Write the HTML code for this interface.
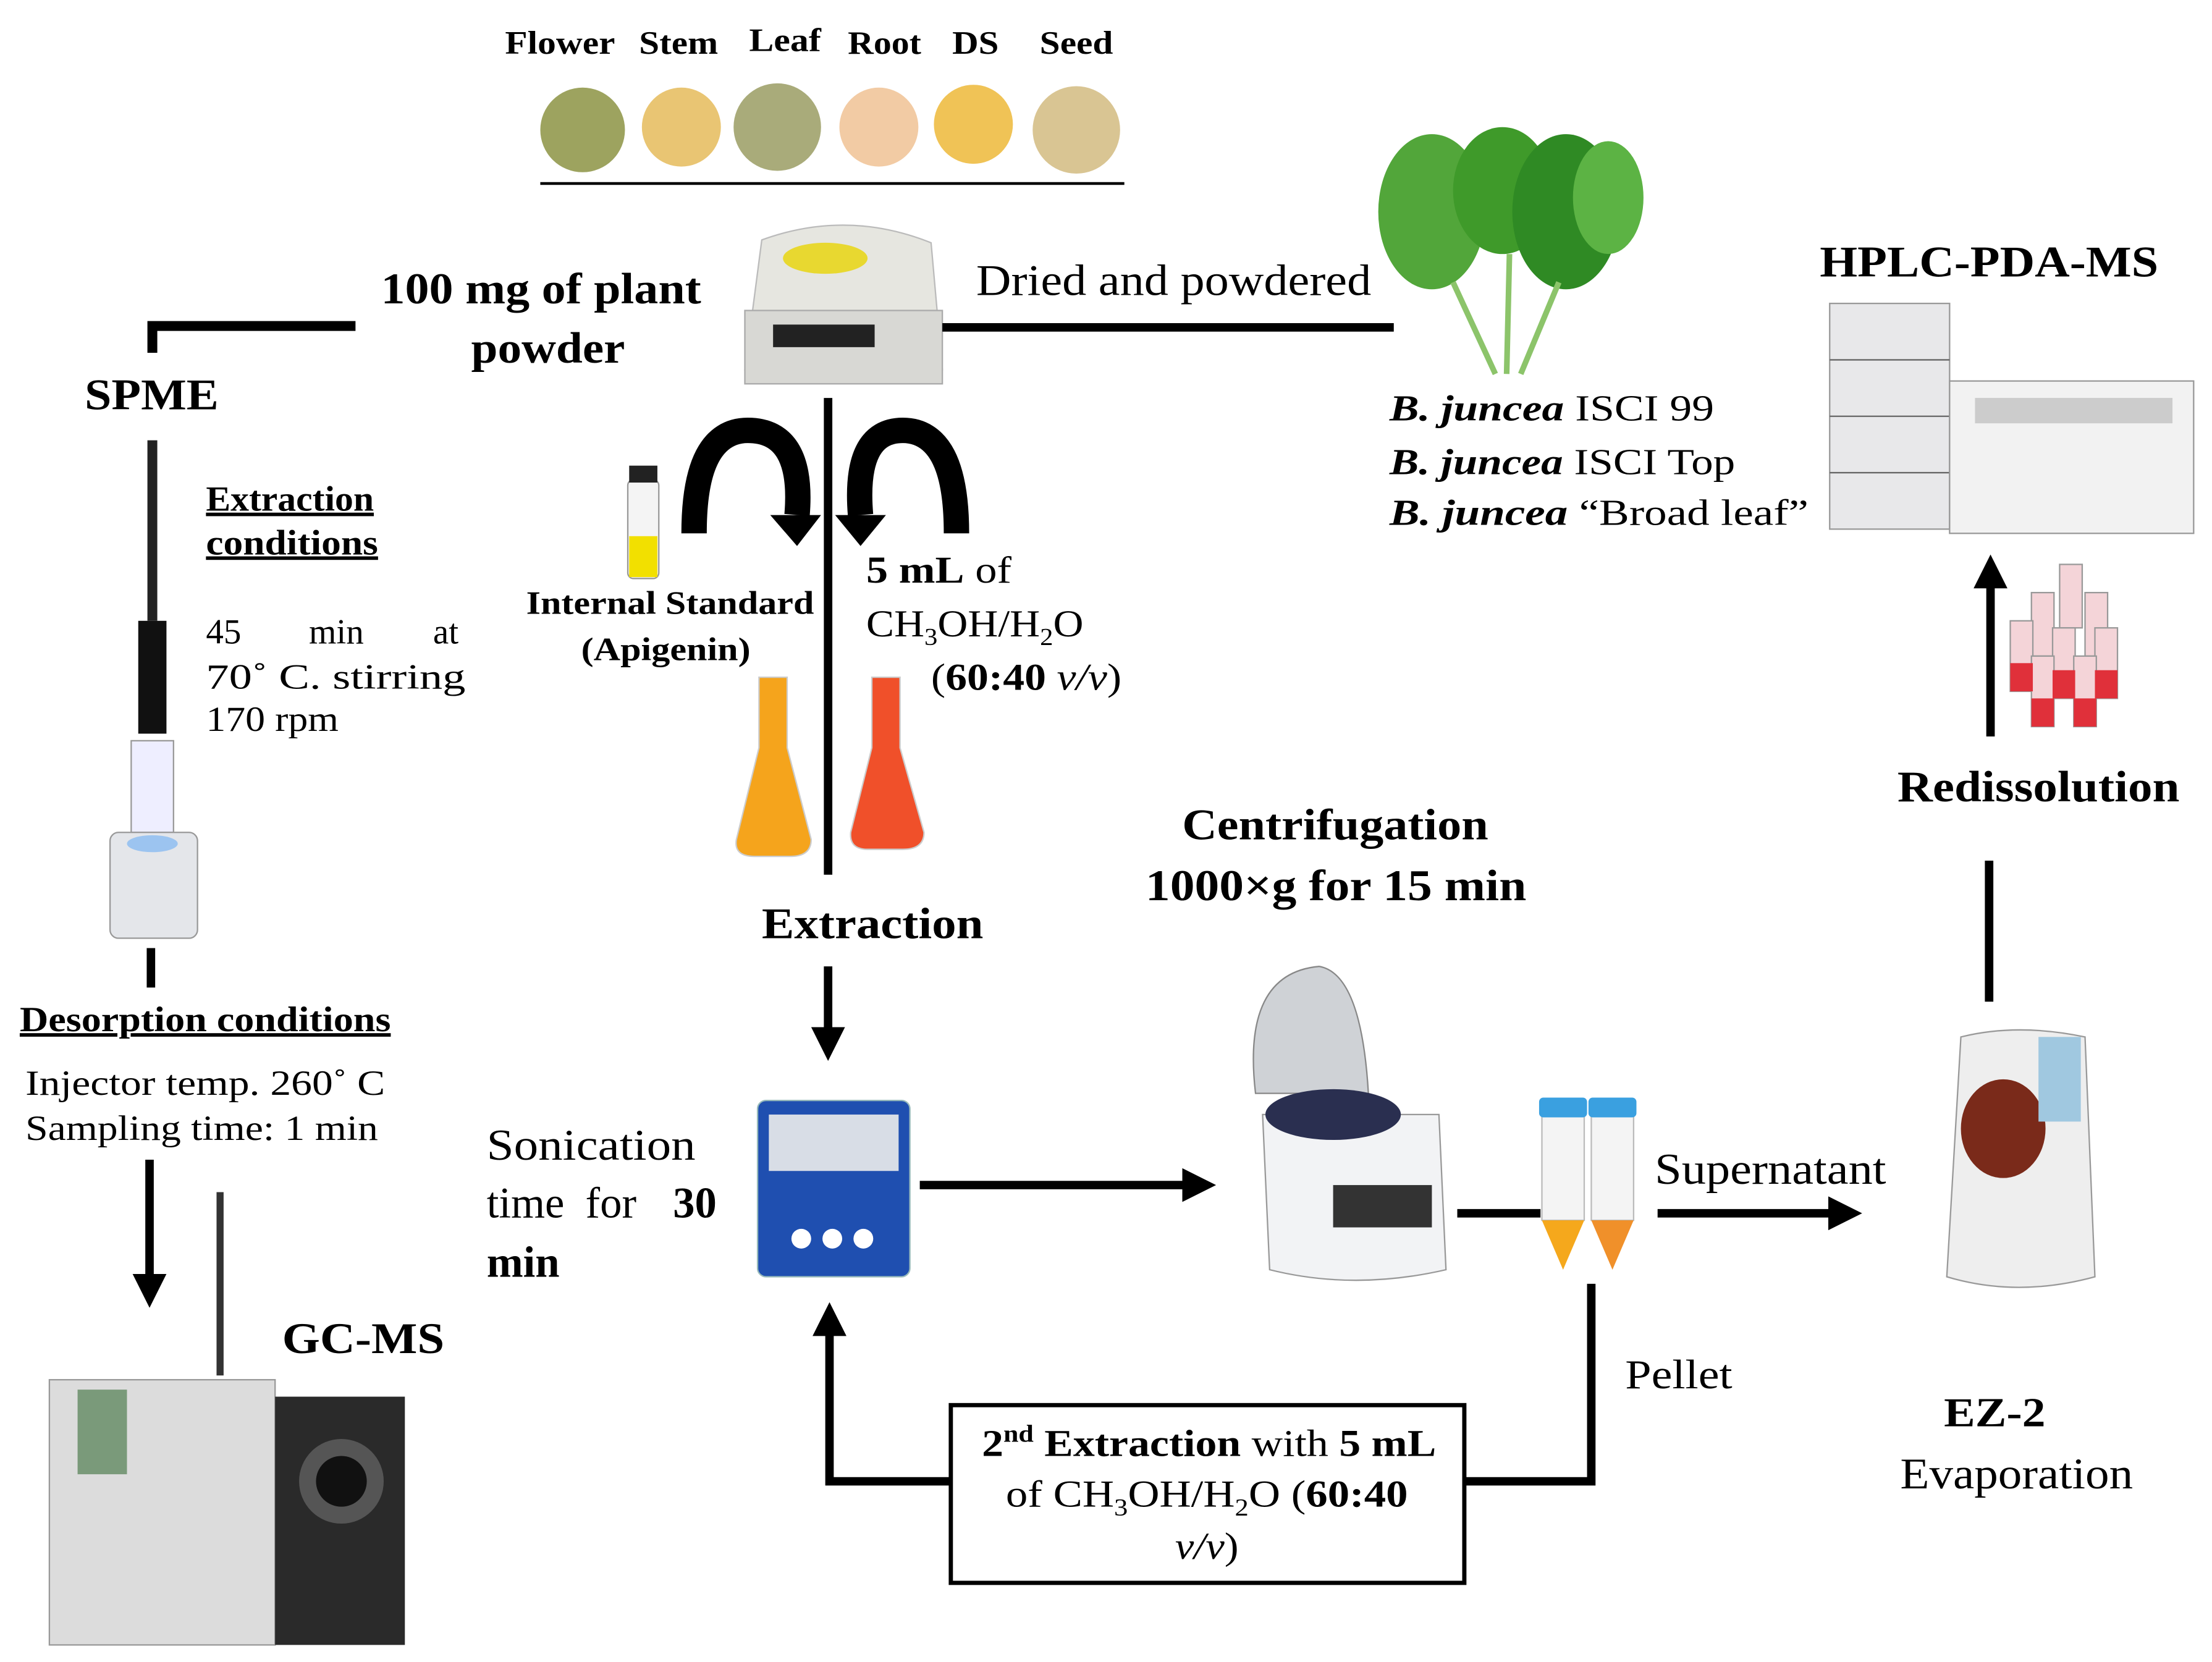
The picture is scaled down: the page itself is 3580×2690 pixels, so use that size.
<!DOCTYPE html>
<html><head><meta charset="utf-8"><style>
html,body{margin:0;padding:0;background:#fff;}
svg{display:block;}
text{font-family:"Liberation Serif",serif;fill:#000;}
.b{font-weight:bold;}
</style></head><body>
<svg width="3580" height="2690" viewBox="0 0 1568 1178" xmlns="http://www.w3.org/2000/svg">
<defs>
<marker id="ah" markerWidth="4" markerHeight="4" refX="2" refY="2" orient="auto" markerUnits="strokeWidth"><path d="M0,0 L4,2 L0,4 z" fill="#000"/></marker>
</defs>
<rect width="1568" height="1178" fill="#fff"/>
<g font-size="23" class="b" lengthAdjust="spacingAndGlyphs">
<text x="358" y="38" class="b" textLength="78" lengthAdjust="spacingAndGlyphs">Flower</text><text x="453" y="38" class="b" textLength="56" lengthAdjust="spacingAndGlyphs">Stem</text><text x="531" y="36" class="b" textLength="51" lengthAdjust="spacingAndGlyphs">Leaf</text><text x="601" y="38" class="b" textLength="52" lengthAdjust="spacingAndGlyphs">Root</text><text x="675" y="38" class="b" textLength="33" lengthAdjust="spacingAndGlyphs">DS</text><text x="737" y="38" class="b" textLength="52" lengthAdjust="spacingAndGlyphs">Seed</text>
</g>
<circle cx="413" cy="92" r="30" fill="#9da35f"/><circle cx="483" cy="90" r="28" fill="#e9c573"/><circle cx="551" cy="90" r="31" fill="#a9ab7a"/><circle cx="623" cy="90" r="28" fill="#f2cba4"/><circle cx="690" cy="88" r="28" fill="#f0c356"/><circle cx="763" cy="92" r="31" fill="#d9c593"/>
<line x1="383" y1="130" x2="797" y2="130" stroke="#000" stroke-width="2"/>
<path d="M540,170 Q600,148 660,172 L668,262 L528,262 Z" fill="#e6e6e0" stroke="#bbb"/>
<ellipse cx="585" cy="183" rx="30" ry="11" fill="#e8d830"/>
<rect x="528" y="220" width="140" height="52" fill="#d8d8d4" stroke="#aaa"/>
<rect x="548" y="230" width="72" height="16" fill="#222"/>
<text x="270" y="215" class="b" font-size="31" textLength="227" lengthAdjust="spacingAndGlyphs">100 mg of plant</text>
<text x="334" y="257" class="b" font-size="31" textLength="109" lengthAdjust="spacingAndGlyphs">powder</text>
<path d="M252,231 H108 V250" fill="none" stroke="#000" stroke-width="7"/>
<text x="60" y="290" class="b" font-size="31" textLength="95" lengthAdjust="spacingAndGlyphs">SPME</text>
<line x1="668" y1="232" x2="988" y2="232" stroke="#000" stroke-width="6"/>
<text x="692" y="209" font-size="31" textLength="280" lengthAdjust="spacingAndGlyphs">Dried and powdered</text>
<g fill="#3f9a2a">
<ellipse cx="1015" cy="150" rx="38" ry="55" fill="#52a63a"/><ellipse cx="1065" cy="135" rx="35" ry="45"/><ellipse cx="1110" cy="150" rx="38" ry="55" fill="#2f8a24"/><ellipse cx="1140" cy="140" rx="25" ry="40" fill="#5cb344"/>
</g>
<g stroke="#8cc46a" stroke-width="4"><line x1="1030" y1="200" x2="1060" y2="265"/><line x1="1070" y1="180" x2="1068" y2="265"/><line x1="1105" y1="200" x2="1078" y2="265"/></g>
<g font-size="26"><text x="985" y="298" textLength="230" lengthAdjust="spacingAndGlyphs"><tspan font-style="italic" class="b">B. juncea</tspan> ISCI 99</text>
<text x="985" y="336" textLength="245" lengthAdjust="spacingAndGlyphs"><tspan font-style="italic" class="b">B. juncea</tspan> ISCI Top</text>
<text x="985" y="372" textLength="297" lengthAdjust="spacingAndGlyphs"><tspan font-style="italic" class="b">B. juncea</tspan> “Broad leaf”</text></g>
<text x="1290" y="196" class="b" font-size="31" textLength="240" lengthAdjust="spacingAndGlyphs">HPLC-PDA-MS</text>
<rect x="1297" y="215" width="85" height="160" fill="#e8e8ea" stroke="#999"/>
<g stroke="#666"><line x1="1297" y1="255" x2="1382" y2="255"/><line x1="1297" y1="295" x2="1382" y2="295"/><line x1="1297" y1="335" x2="1382" y2="335"/></g>
<rect x="1382" y="270" width="173" height="108" fill="#f2f2f2" stroke="#999"/>
<rect x="1400" y="282" width="140" height="18" fill="#ccc"/>
<line x1="587" y1="282" x2="587" y2="620" stroke="#000" stroke-width="6"/>
<path d="M492,378 Q492,305 530,305 Q570,305 565,365" fill="none" stroke="#000" stroke-width="18"/>
<path d="M546,365 L582,365 L565,387 Z" fill="#000"/>
<path d="M678,378 Q678,305 640,305 Q605,305 610,365" fill="none" stroke="#000" stroke-width="18"/>
<path d="M592,365 L628,365 L610,387 Z" fill="#000"/>
<rect x="445" y="340" width="22" height="70" rx="4" fill="#f4f4f4" stroke="#999"/><rect x="446" y="380" width="20" height="29" fill="#f2e000"/><rect x="446" y="330" width="20" height="12" fill="#222"/>
<text x="373" y="435" class="b" font-size="23" textLength="204" lengthAdjust="spacingAndGlyphs">Internal Standard</text>
<text x="412" y="468" class="b" font-size="23" textLength="120" lengthAdjust="spacingAndGlyphs">(Apigenin)</text>
<text x="614" y="413" font-size="27" textLength="103" lengthAdjust="spacingAndGlyphs"><tspan class="b">5 mL</tspan> of</text>
<text x="614" y="451" font-size="27" textLength="154" lengthAdjust="spacingAndGlyphs">CH<tspan font-size="17" dy="6">3</tspan><tspan dy="-6">OH/H</tspan><tspan font-size="17" dy="6">2</tspan><tspan dy="-6">O</tspan></text>
<text x="660" y="489" font-size="27" textLength="135" lengthAdjust="spacingAndGlyphs">(<tspan class="b">60:40 </tspan><tspan font-style="italic">v/v</tspan>)</text>
<path d="M538,480 L558,480 L558,530 L575,595 Q575,607 560,607 L535,607 Q520,607 522,595 L538,530 Z" fill="#f5a41c" stroke="#ccc"/>
<path d="M618,480 L638,480 L638,530 L655,590 Q655,602 640,602 L615,602 Q602,602 603,590 L618,530 Z" fill="#f0502a" stroke="#ccc"/>
<text x="540" y="665" class="b" font-size="31" textLength="157" lengthAdjust="spacingAndGlyphs">Extraction</text>
<line x1="587" y1="685" x2="587" y2="740" stroke="#000" stroke-width="6" marker-end="url(#ah)"/>
<line x1="108" y1="312" x2="108" y2="440" stroke="#222" stroke-width="7"/>
<rect x="98" y="440" width="20" height="80" fill="#111"/>
<rect x="93" y="525" width="30" height="65" fill="#eef" stroke="#999"/>
<rect x="78" y="590" width="62" height="75" rx="6" fill="#e4e6ea" stroke="#999"/>
<ellipse cx="108" cy="598" rx="18" ry="6" fill="#9cc4f0"/>
<g font-size="25"><text x="146" y="362" class="b" text-decoration="underline" textLength="119" lengthAdjust="spacingAndGlyphs">Extraction</text><text x="146" y="393" class="b" text-decoration="underline" textLength="122" lengthAdjust="spacingAndGlyphs">conditions</text>
<text x="146" y="456">45</text><text x="219" y="456">min</text><text x="307" y="456">at</text>
<text x="146" y="488" textLength="184" lengthAdjust="spacingAndGlyphs">70˚ C. stirring</text><text x="146" y="518" textLength="94" lengthAdjust="spacingAndGlyphs">170 rpm</text>
<text x="14" y="731" class="b" text-decoration="underline" textLength="263" lengthAdjust="spacingAndGlyphs">Desorption conditions</text>
<text x="18" y="776" textLength="255" lengthAdjust="spacingAndGlyphs">Injector temp. 260˚ C</text><text x="18" y="808" textLength="250" lengthAdjust="spacingAndGlyphs">Sampling time: 1 min</text></g>
<line x1="107" y1="672" x2="107" y2="700" stroke="#000" stroke-width="6"/>
<line x1="106" y1="822" x2="106" y2="915" stroke="#000" stroke-width="6" marker-end="url(#ah)"/>
<text x="200" y="959" class="b" font-size="31" textLength="115" lengthAdjust="spacingAndGlyphs">GC-MS</text>
<line x1="156" y1="845" x2="156" y2="975" stroke="#333" stroke-width="5"/>
<rect x="35" y="978" width="160" height="188" fill="#dcdcdc" stroke="#999"/>
<rect x="55" y="985" width="35" height="60" fill="#7a9a7a"/>
<rect x="195" y="990" width="92" height="176" fill="#2a2a2a"/>
<circle cx="242" cy="1050" r="30" fill="#555"/><circle cx="242" cy="1050" r="18" fill="#111"/>
<g font-size="31"><text x="345" y="822" textLength="148" lengthAdjust="spacingAndGlyphs">Sonication</text><text x="345" y="863">time</text><text x="415" y="863">for</text><text x="477" y="863" class="b">30</text><text x="345" y="905" class="b">min</text></g>
<rect x="537" y="780" width="108" height="125" rx="6" fill="#1f4fb0" stroke="#9bb"/>
<rect x="545" y="790" width="92" height="40" fill="#d8dde6"/>
<g fill="#fff"><circle cx="568" cy="878" r="7"/><circle cx="590" cy="878" r="7"/><circle cx="612" cy="878" r="7"/></g>
<line x1="652" y1="840" x2="850" y2="840" stroke="#000" stroke-width="6" marker-end="url(#ah)"/>
<text x="838" y="595" class="b" font-size="31" textLength="217" lengthAdjust="spacingAndGlyphs">Centrifugation</text>
<text x="812" y="638" class="b" font-size="31" textLength="270" lengthAdjust="spacingAndGlyphs">1000×g for 15 min</text>
<path d="M890,775 Q880,690 935,685 Q965,690 970,775 Z" fill="#cfd2d6" stroke="#888"/>
<path d="M895,790 L1020,790 L1025,900 Q960,915 900,900 Z" fill="#f2f3f5" stroke="#999"/>
<ellipse cx="945" cy="790" rx="48" ry="18" fill="#2a2f50"/>
<rect x="945" y="840" width="70" height="30" fill="#333"/>
<line x1="1033" y1="860" x2="1092" y2="860" stroke="#000" stroke-width="6"/>
<rect x="1093" y="785" width="30" height="80" fill="#f4f4f4" stroke="#bbb"/><path d="M1093,865 H1123 L1108,900 Z" fill="#f5a81c"/><rect x="1091" y="778" width="34" height="14" rx="3" fill="#3aa0e0"/>
<rect x="1128" y="785" width="30" height="80" fill="#f4f4f4" stroke="#bbb"/><path d="M1128,865 H1158 L1143,900 Z" fill="#f0902a"/><rect x="1126" y="778" width="34" height="14" rx="3" fill="#3aa0e0"/>
<text x="1173" y="839" font-size="31" textLength="164" lengthAdjust="spacingAndGlyphs">Supernatant</text>
<line x1="1175" y1="860" x2="1308" y2="860" stroke="#000" stroke-width="6" marker-end="url(#ah)"/>
<path d="M1390,735 Q1430,725 1478,735 L1485,905 Q1430,920 1380,905 Z" fill="#eeeeee" stroke="#999"/>
<ellipse cx="1420" cy="800" rx="30" ry="35" fill="#7a2a1a"/>
<rect x="1445" y="735" width="30" height="60" fill="#a0c8e0"/>
<text x="1378" y="1011" class="b" font-size="29" textLength="72" lengthAdjust="spacingAndGlyphs">EZ-2</text>
<text x="1347" y="1055" font-size="31" textLength="165" lengthAdjust="spacingAndGlyphs">Evaporation</text>
<line x1="1410" y1="610" x2="1410" y2="710" stroke="#000" stroke-width="6"/>
<text x="1345" y="568" class="b" font-size="31" textLength="200" lengthAdjust="spacingAndGlyphs">Redissolution</text>
<line x1="1411" y1="522" x2="1411" y2="405" stroke="#000" stroke-width="6" marker-end="url(#ah)"/>
<g fill="#f4d4d8" stroke="#999">
<rect x="1460" y="400" width="16" height="45"/><rect x="1440" y="420" width="16" height="45"/><rect x="1478" y="420" width="16" height="45"/><rect x="1425" y="440" width="16" height="50"/><rect x="1455" y="445" width="16" height="50"/><rect x="1485" y="445" width="16" height="50"/><rect x="1440" y="465" width="16" height="50"/><rect x="1470" y="465" width="16" height="50"/>
</g>
<g fill="#e0303a"><rect x="1425" y="470" width="16" height="20"/><rect x="1455" y="475" width="16" height="20"/><rect x="1485" y="475" width="16" height="20"/><rect x="1440" y="495" width="16" height="20"/><rect x="1470" y="495" width="16" height="20"/></g>
<text x="1152" y="984" font-size="29" textLength="76" lengthAdjust="spacingAndGlyphs">Pellet</text>
<path d="M1128,910 V1050 H1038" fill="none" stroke="#000" stroke-width="6"/>
<rect x="674" y="996" width="364" height="126" fill="#fff" stroke="#000" stroke-width="3"/>
<g font-size="27">
<text x="696" y="1032" textLength="322" lengthAdjust="spacingAndGlyphs"><tspan class="b">2<tspan font-size="17" dy="-10">nd</tspan><tspan dy="10"> Extraction</tspan></tspan> with <tspan class="b">5 mL</tspan></text>
<text x="713" y="1068" textLength="285" lengthAdjust="spacingAndGlyphs">of CH<tspan font-size="17" dy="6">3</tspan><tspan dy="-6">OH/H</tspan><tspan font-size="17" dy="6">2</tspan><tspan dy="-6">O (</tspan><tspan class="b">60:40</tspan></text>
<text x="833" y="1105" font-style="italic" textLength="45" lengthAdjust="spacingAndGlyphs">v/v<tspan font-style="normal">)</tspan></text>
</g>
<path d="M674,1050 H588 V935" fill="none" stroke="#000" stroke-width="6" marker-end="url(#ah)"/>
</svg>
</body></html>
